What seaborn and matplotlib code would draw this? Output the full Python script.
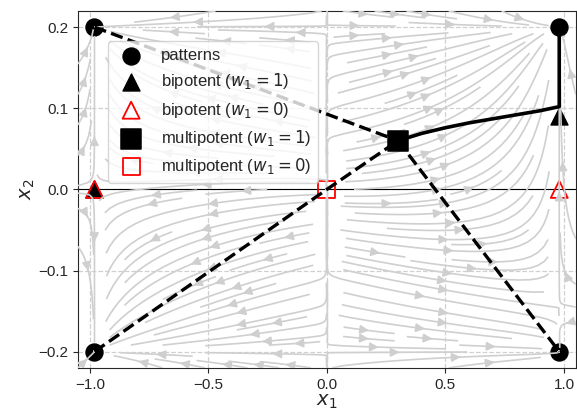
import numpy as np
import pandas as pd
import matplotlib
matplotlib.use('Agg')
import matplotlib.pyplot as plt
import seaborn as sns

# fixed points
pattern_x = [-0.98, 0.98, -0.98, 0.98]
pattern_y = [0.2, 0.2, -0.2, -0.2]
bip1_x = [-0.98, 0.98]
bip1_y = [0.0, 0.09]
bip0_x = [-0.98, 0.98]
bip0_y = [0.0, 0.0]
multi1_x = [0.3]
multi1_y = [0.06]
multi0_x = [0.0]
multi0_y = [0.0]

# dashed paths: pattern -> multipotent
dash_paths = [
    ([-0.98, 0.3], [0.2, 0.06]),
    ([0.3, 0.98], [0.06, -0.2]),
    ([-0.98, 0.0, 0.3], [-0.2, 0.0, 0.06]),
]
# solid path: multipotent -> bipotent -> pattern
solid_x = [0.3, 0.4, 0.5, 0.6, 0.7, 0.8, 0.9, 0.98, 0.98]
solid_y = [0.06, 0.069, 0.076, 0.082, 0.087, 0.092, 0.097, 0.102, 0.2]

# background flow (illustrative model field)
r = 0.98
B = 22.0


def field(x1, x2):
    c = -0.075 * x1 * (1 + x1)
    u = np.tanh(x1 / 0.04) * (r ** 2 - x1 ** 2)
    v = B * (x2 - c) * (0.2 ** 2 - x2 ** 2)
    return u, v


sns.set_style('ticks')
plt.rcParams['font.family'] = ['Liberation Sans', 'DejaVu Sans']
plt.rcParams['mathtext.fontset'] = 'dejavusans'

fig = plt.figure(figsize=(5.77, 4.19), dpi=100)
ax = fig.add_axes([0.135, 0.122, 0.863, 0.852])

ax.grid(True, ls='--', color='#d0d0d0', lw=0.9, zorder=0)
ax.axhline(0, color='black', lw=0.8, zorder=1)

g1 = np.linspace(-1.05, 1.05, 200)
g2 = np.linspace(-0.22, 0.22, 200)
X1, X2 = np.meshgrid(g1, g2)
U, V = field(X1, X2)

ms = 150
sns.scatterplot(x=pattern_x, y=pattern_y, marker='o', s=ms, color='black',
                edgecolor='black', label='patterns', ax=ax, zorder=2)
sns.scatterplot(x=bip1_x, y=bip1_y, marker='^', s=ms, color='black',
                edgecolor='black', label='bipotent ($w_1 = 1$)', ax=ax, zorder=2)
ax.scatter(bip0_x, bip0_y, marker='^', s=ms, facecolors='none',
           edgecolors='red', linewidths=1.3, label='bipotent ($w_1 = 0$)', zorder=2)
sns.scatterplot(x=multi1_x, y=multi1_y, marker='s', s=190, color='black',
                edgecolor='black', label='multipotent ($w_1 = 1$)', ax=ax, zorder=5)
ax.scatter(multi0_x, multi0_y, marker='s', s=ms, facecolors='none',
           edgecolors='red', linewidths=1.3, label='multipotent ($w_1 = 0$)', zorder=2)

ax.streamplot(g1, g2, U, V, density=1.6, color='#cfcfcf', linewidth=1.2,
              arrowsize=1.3, zorder=3)

for px, py in dash_paths:
    sns.lineplot(x=px, y=py, sort=False, estimator=None, color='black',
                 lw=2.4, linestyle='--', ax=ax, zorder=4)
sns.lineplot(x=solid_x, y=solid_y, sort=False, estimator=None, color='black',
             lw=2.6, ax=ax, zorder=4)

ax.set_xlim(-1.05, 1.05)
ax.set_ylim(-0.22, 0.22)
ax.set_xticks([-1.0, -0.5, 0.0, 0.5, 1.0])
ax.set_yticks([-0.2, -0.1, 0.0, 0.1, 0.2])
ax.tick_params(labelsize=11)
ax.set_xlabel('$x_1$', fontsize=14, labelpad=1)
ax.set_ylabel('$x_2$', fontsize=14, labelpad=1)

leg = ax.legend(loc='upper left', bbox_to_anchor=(0.06, 0.915),
                borderaxespad=0, fontsize=12, framealpha=0.8)
leg.set_zorder(6)

fig.savefig('out.png', dpi=100)
